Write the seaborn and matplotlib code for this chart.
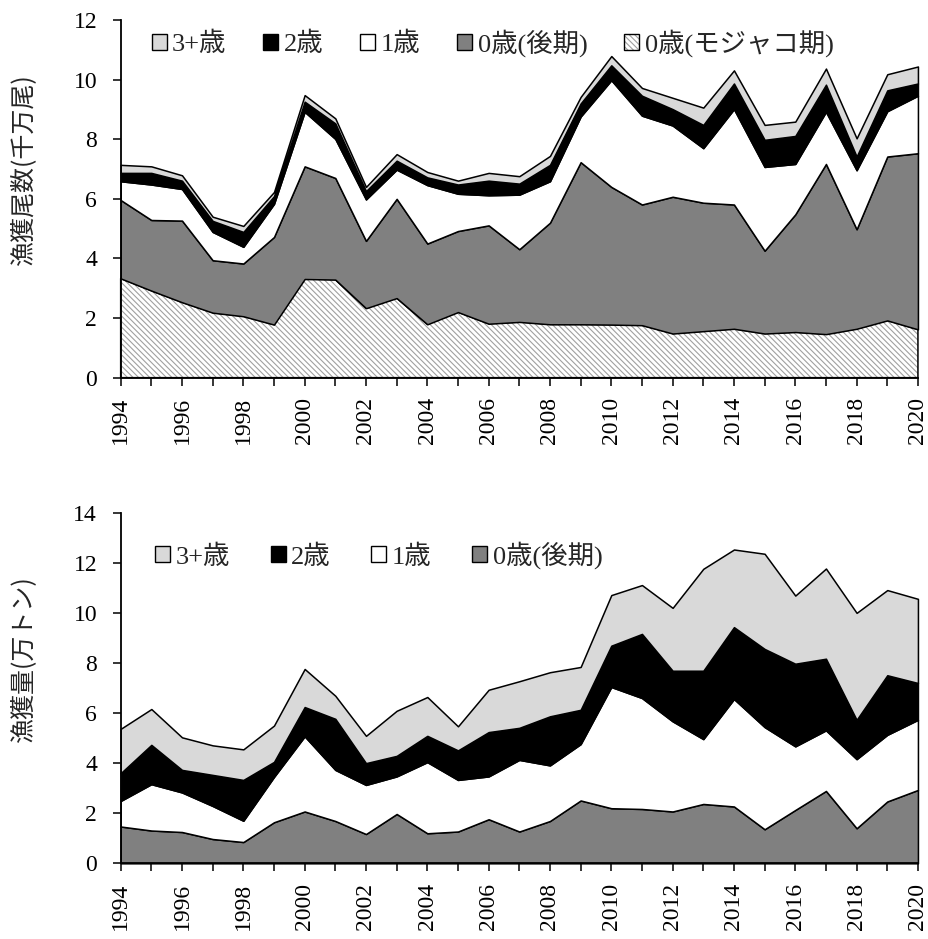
import numpy as np
import matplotlib
matplotlib.use("Agg")
import matplotlib.pyplot as plt
from matplotlib.patches import Patch
from matplotlib.legend_handler import HandlerTuple
import seaborn as sns

# ---------------- data ----------------
years = list(range(1994, 2021))
year_labels = [str(y) if y % 2 == 0 else "" for y in years]

# Top panel: catch in numbers (千万尾), per age class (not cumulative)
n_mojako = [3.33, 2.92, 2.53, 2.18, 2.06, 1.78, 3.31, 3.29, 2.33, 2.67, 1.79, 2.20, 1.81,
            1.87, 1.79, 1.79, 1.78, 1.76, 1.48, 1.56, 1.64, 1.48, 1.53, 1.46, 1.64, 1.92, 1.62]
n_age0 = [2.63, 2.37, 2.74, 1.76, 1.77, 2.94, 3.78, 3.41, 2.26, 3.33, 2.71, 2.72, 3.30,
          2.44, 3.41, 5.44, 4.62, 4.05, 4.59, 4.31, 4.17, 2.78, 3.95, 5.71, 3.34, 5.50, 5.91]
n_age1 = [0.63, 1.19, 1.06, 0.95, 0.56, 1.11, 1.83, 1.31, 1.39, 0.98, 1.96, 1.25, 1.01,
          1.83, 1.39, 1.53, 3.58, 2.98, 2.39, 1.83, 3.20, 2.81, 1.69, 1.75, 1.98, 1.52, 1.93]
n_age2 = [0.28, 0.39, 0.28, 0.37, 0.50, 0.26, 0.34, 0.52, 0.28, 0.30, 0.26, 0.31, 0.49,
          0.37, 0.55, 0.44, 0.50, 0.67, 0.55, 0.78, 0.86, 0.91, 0.94, 0.91, 0.46, 0.70, 0.41]
n_age3 = [0.27, 0.22, 0.18, 0.14, 0.20, 0.14, 0.22, 0.17, 0.14, 0.22, 0.18, 0.13, 0.26,
          0.25, 0.30, 0.22, 0.31, 0.26, 0.38, 0.58, 0.44, 0.50, 0.48, 0.54, 0.61, 0.54, 0.57]

# Bottom panel: catch in weight (万トン), per age class
w_age0 = [1.47, 1.31, 1.25, 0.97, 0.85, 1.64, 2.07, 1.69, 1.17, 1.97, 1.20, 1.27, 1.76,
          1.27, 1.69, 2.51, 2.20, 2.17, 2.07, 2.37, 2.27, 1.36, 2.13, 2.89, 1.40, 2.47, 2.93]
w_age1 = [1.02, 1.85, 1.58, 1.32, 0.85, 1.81, 3.00, 2.04, 1.96, 1.50, 2.84, 2.06, 1.71,
          2.86, 2.22, 2.25, 4.84, 4.43, 3.60, 2.59, 4.29, 4.08, 2.54, 2.42, 2.76, 2.66, 2.80]
w_age2 = [1.11, 1.57, 0.90, 1.24, 1.63, 0.60, 1.17, 2.04, 0.87, 0.82, 1.05, 1.18, 1.77,
          1.28, 1.96, 1.37, 1.65, 2.56, 2.02, 2.73, 2.87, 3.12, 3.30, 2.86, 1.57, 2.38, 1.47]
w_age3 = [1.77, 1.43, 1.30, 1.18, 1.22, 1.45, 1.52, 0.92, 1.09, 1.80, 1.55, 0.96, 1.69,
          1.86, 1.76, 1.71, 2.02, 1.95, 2.51, 4.07, 3.10, 3.80, 2.72, 3.60, 4.27, 3.40, 3.36]

labels_top = ["3+歳", "2歳", "1歳", "0歳(後期)", "0歳(モジャコ期)"]
labels_bottom = ["3+歳", "2歳", "1歳", "0歳(後期)"]
ylabel_top = "漁獲尾数(千万尾)"
ylabel_bottom = "漁獲量(万トン)"

# ---------------- style ----------------
sns.set_style("ticks")
plt.rcParams["font.family"] = ["Liberation Serif", "Noto Sans CJK JP"]
plt.rcParams["hatch.linewidth"] = 0.8

C3, C2, C1, C0 = "#d9d9d9", "#000000", "#ffffff", "#808080"
HATCH_C = "#a0a0a0"
LW = 1.1

fig = plt.figure(figsize=(9.29, 9.39), dpi=100)
ax1 = fig.add_axes([0.1299, 0.5978, 0.8582, 0.3809])
ax2 = fig.add_axes([0.1299, 0.0806, 0.8582, 0.3734])


def draw_stack(ax, layers, colors, hatched_first=False):
    base = np.zeros(len(years))
    for i, (vals, col) in enumerate(zip(layers, colors)):
        top = base + np.asarray(vals, dtype=float)
        if hatched_first and i == 0:
            ax.fill_between(years, base, top, facecolor="white", edgecolor=HATCH_C,
                            hatch=r"\\\\\\", linewidth=0)
            ax.fill_between(years, base, top, facecolor="none", edgecolor="black",
                            linewidth=LW, clip_on=False)
        else:
            ax.fill_between(years, base, top, facecolor=col, edgecolor="black",
                            linewidth=LW, clip_on=False)
        base = top


draw_stack(ax1, [n_mojako, n_age0, n_age1, n_age2, n_age3],
           [None, C0, C1, C2, C3], hatched_first=True)
draw_stack(ax2, [w_age0, w_age1, w_age2, w_age3], [C0, C1, C2, C3])

for ax, ymax, ylab in [(ax1, 12, ylabel_top), (ax2, 14, ylabel_bottom)]:
    ax.set_xlim(1994, 2020)
    ax.set_ylim(0, ymax)
    ax.set_yticks(range(0, ymax + 1, 2))
    ax.set_xticks(years)
    ax.set_xticklabels(year_labels, rotation=90)
    ax.tick_params(axis="both", direction="out", length=6, width=1.1,
                   labelsize=17, colors="black")
    ax.tick_params(axis="y", pad=11)
    ax.tick_params(axis="x", pad=8)
    sns.despine(ax=ax)
    for sp in ("left", "bottom"):
        ax.spines[sp].set_linewidth(1.3)
        ax.spines[sp].set_color("black")
    ax.set_ylabel(ylab, fontsize=18, family=["Noto Sans CJK JP", "DejaVu Sans"])
    ax.yaxis.set_label_coords(-0.106, 0.58)


def sq(fc):
    return Patch(facecolor=fc, edgecolor="black", linewidth=1.0)


hatch_handle = (Patch(facecolor="white", edgecolor=HATCH_C, hatch=r"\\\\\\", linewidth=0),
                Patch(facecolor="none", edgecolor="black", linewidth=1.0))

leg_kw = dict(frameon=False, handlelength=0.57, handleheight=0.57, handletextpad=0.2,
              borderpad=0, borderaxespad=0, fontsize=19, loc="center left")

ax1.legend([sq(C3), sq(C2), sq(C1), sq(C0), hatch_handle], labels_top,
           ncol=5, columnspacing=1.4, bbox_to_anchor=(0.039, 0.936),
           handler_map={tuple: HandlerTuple(ndivide=1, pad=0)}, **leg_kw)
ax2.legend([sq(C3), sq(C2), sq(C1), sq(C0)], labels_bottom,
           ncol=4, columnspacing=1.55, bbox_to_anchor=(0.043, 0.879), **leg_kw)

fig.savefig("out.png", dpi=100)
